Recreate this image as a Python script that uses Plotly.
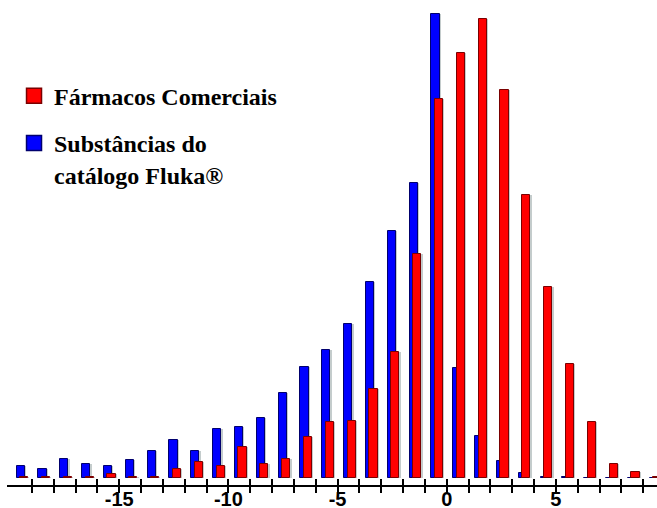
import plotly.graph_objects as go

# Histogram bins (centre of each unit-wide bin)
bin_centers = [-19.5, -18.5, -17.5, -16.5, -15.5, -14.5, -13.5, -12.5, -11.5, -10.5,
               -9.5, -8.5, -7.5, -6.5, -5.5, -4.5, -3.5, -2.5, -1.5, -0.5,
               0.5, 1.5, 2.5, 3.5, 4.5, 5.5, 6.5, 7.5, 8.5, 9.5]

# Relative frequency (%) per bin
fluka = [0.62, 0.43, 0.95, 0.68, 0.62, 0.88, 1.33, 1.90, 1.33, 2.43,
         2.55, 2.98, 4.23, 5.57, 6.40, 7.68, 9.82, 12.37, 14.77, 23.20,
         5.48, 2.10, 0.87, 0.23, 0.05, 0.05, 0.0, 0.0, 0.0, 0.0]

comerciais = [0.03, 0.03, 0.03, 0.03, 0.18, 0.03, 0.03, 0.43, 0.78, 0.60,
              1.57, 0.68, 0.93, 2.07, 2.82, 2.87, 4.45, 6.32, 11.18, 18.95,
              21.25, 22.93, 19.40, 14.15, 9.53, 5.70, 2.82, 0.68, 0.30, 0.03]

tick_values = [-19, -18, -17, -16, -15, -14, -13, -12, -11, -10, -9, -8, -7, -6, -5,
               -4, -3, -2, -1, 0, 1, 2, 3, 4, 5, 6, 7, 8, 9]
tick_labels = ["", "", "", "", "-15", "", "", "", "", "-10", "", "", "", "", "-5",
               "", "", "", "", "0", "", "", "", "", "5", "", "", "", ""]

name_red = "Fármacos Comerciais"
name_blue = "Substâncias do<br>catálogo Fluka®"

RED = "#ff0000"
RED_EDGE = "#7a0000"
BLUE = "#0000ff"
BLUE_EDGE = "#00006e"
SHADOW = "#c4cccc"

BAR_W = 0.37
BLUE_OFF = -0.20
RED_OFF = -0.04

fig = go.Figure()

# soft grey halo behind every bar
for vals, off in ((fluka, BLUE_OFF), (comerciais, RED_OFF)):
    fig.add_trace(go.Bar(
        x=bin_centers, y=vals, width=BAR_W + 0.1, offset=off - 0.04,
        marker=dict(color=SHADOW, line=dict(width=0)),
        showlegend=False, hoverinfo="skip",
    ))

fig.add_trace(go.Bar(
    x=bin_centers, y=fluka, width=BAR_W, offset=BLUE_OFF,
    marker=dict(color=BLUE, line=dict(color=BLUE_EDGE, width=1)),
    showlegend=False, name="Fluka",
))
fig.add_trace(go.Bar(
    x=bin_centers, y=comerciais, width=BAR_W, offset=RED_OFF,
    marker=dict(color=RED, line=dict(color=RED_EDGE, width=1)),
    showlegend=False, name="Comerciais",
))

# legend entries with larger square swatches
fig.add_trace(go.Scatter(
    x=[None], y=[None], mode="markers", name=name_red, xaxis="x2",
    marker=dict(symbol="square", size=15, color=RED, line=dict(color=RED_EDGE, width=1.5)),
    legendgroup="a", legendrank=1,
))
fig.add_trace(go.Scatter(
    x=[None], y=[None], mode="markers", name=name_blue, xaxis="x2",
    marker=dict(symbol="square", size=15, color=BLUE, line=dict(color=BLUE_EDGE, width=1.5)),
    legendgroup="b", legendrank=2,
))

x_range = [-20.14, 9.63]

fig.update_layout(
    width=657, height=508,
    margin=dict(l=7, r=0, t=0, b=23, autoexpand=False),
    paper_bgcolor="white", plot_bgcolor="white",
    barmode="overlay", bargap=0,
    # axis line with the lower half of each tick
    xaxis=dict(
        range=x_range, tickmode="array", tickvals=tick_values, showticklabels=False,
        ticks="outside", ticklen=6, tickwidth=2, tickcolor="black",
        showline=True, linecolor="black", linewidth=2,
        showgrid=False, zeroline=False, automargin=False,
    ),
    # upper half of each tick, plus the labels
    xaxis2=dict(
        range=x_range, overlaying="x", anchor="y", side="bottom",
        tickmode="array", tickvals=tick_values, ticktext=tick_labels,
        ticks="inside", ticklen=6, tickwidth=2, tickcolor="black",
        showline=False, showgrid=False, zeroline=False, automargin=False,
        tickfont=dict(family="Liberation Sans", size=20, color="black", weight="bold"),
    ),
    yaxis=dict(range=[-0.35, 23.9], visible=False, automargin=False),
    showlegend=True,
    legend=dict(
        x=0.0108, y=0.848, xanchor="left", yanchor="top",
        font=dict(family="Liberation Serif", size=24, color="black", weight="bold"),
        valign="top", tracegroupgap=13, traceorder="grouped",
        bgcolor="rgba(0,0,0,0)", itemsizing="trace",
    ),
)

fig.write_html("out.html")
